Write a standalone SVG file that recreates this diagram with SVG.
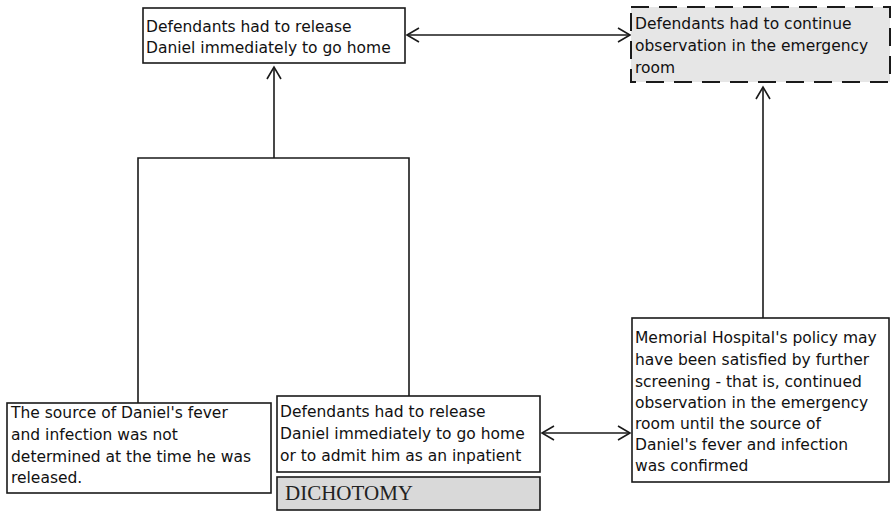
<svg xmlns="http://www.w3.org/2000/svg" width="894" height="512" viewBox="0 0 894 512">
<defs>
<style>
.box{fill:#ffffff;stroke:#1a1a1a;stroke-width:1.6}
.dash{fill:#e6e6e6;stroke:#1a1a1a;stroke-width:2;stroke-dasharray:18 10}
.gray{fill:#d9d9d9;stroke:#1a1a1a;stroke-width:1.6}
.t{font-family:"DejaVu Sans",sans-serif;font-size:15.5px;fill:#111}
.s{font-family:"Liberation Serif",serif;font-size:20px;fill:#222}
.c{fill:none;stroke:#1a1a1a;stroke-width:1.6}
</style>
<marker id="ah" markerUnits="userSpaceOnUse" markerWidth="20" markerHeight="20" viewBox="-14 -10 16 20" refX="0" refY="0" orient="auto-start-reverse">
<path d="M-12,-7 L0,0 L-12,7" fill="none" stroke="#1a1a1a" stroke-width="1.6"/>
</marker>
</defs>
<rect width="894" height="512" fill="#ffffff"/>
<g id="connectors">
<line class="c" x1="407" y1="35" x2="630" y2="35" marker-start="url(#ah)" marker-end="url(#ah)"/>
<line class="c" x1="274" y1="158" x2="274" y2="67" marker-end="url(#ah)"/>
<polyline class="c" points="138,403 138,158 409,158 409,396"/>
<line class="c" x1="763" y1="318" x2="763" y2="87" marker-end="url(#ah)"/>
<line class="c" x1="542" y1="433" x2="630" y2="433" marker-start="url(#ah)" marker-end="url(#ah)"/>
</g>
<g id="n1">
<rect class="box" x="143" y="8" width="262" height="55"/>
<text class="t" x="146" y="32">Defendants had to release</text>
<text class="t" x="146" y="53">Daniel immediately to go home</text>
</g>
<g id="n2">
<rect class="dash" x="631" y="7" width="259" height="75"/>
<text class="t" x="635" y="29">Defendants had to continue</text>
<text class="t" x="635" y="51">observation in the emergency</text>
<text class="t" x="635" y="73">room</text>
</g>
<g id="n3">
<rect class="box" x="7" y="403" width="264" height="90"/>
<text class="t" x="11" y="418">The source of Daniel's fever</text>
<text class="t" x="11" y="440">and infection was not</text>
<text class="t" x="11" y="462">determined at the time he was</text>
<text class="t" x="11" y="483">released.</text>
</g>
<g id="n4">
<rect class="box" x="277" y="396" width="263" height="76"/>
<text class="t" x="280" y="417">Defendants had to release</text>
<text class="t" x="280" y="439">Daniel immediately to go home</text>
<text class="t" x="280" y="461">or to admit him as an inpatient</text>
</g>
<g id="n5">
<rect class="gray" x="277" y="477" width="263" height="33"/>
<text class="s" x="285" y="500" textLength="128" lengthAdjust="spacingAndGlyphs">DICHOTOMY</text>
</g>
<g id="n6">
<rect class="box" x="632" y="318" width="257" height="164"/>
<text class="t" x="635" y="343">Memorial Hospital's policy may</text>
<text class="t" x="635" y="365">have been satisfied by further</text>
<text class="t" x="635" y="387">screening - that is, continued</text>
<text class="t" x="635" y="408">observation in the emergency</text>
<text class="t" x="635" y="429">room until the source of</text>
<text class="t" x="635" y="450">Daniel's fever and infection</text>
<text class="t" x="635" y="471">was confirmed</text>
</g>
</svg>
